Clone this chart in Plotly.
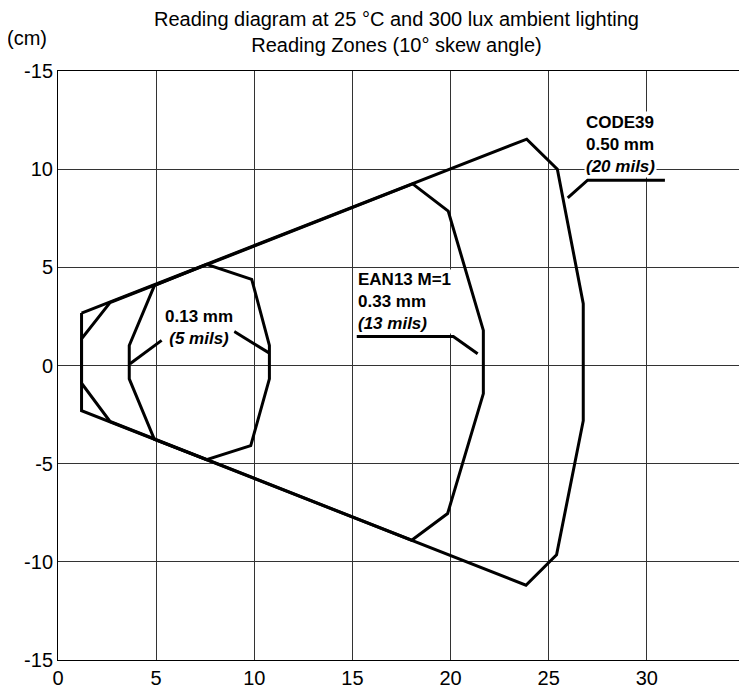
import plotly.graph_objects as go

# Reading zones (cm): x = distance, y = lateral
zone20_x = [1.2, 23.88, 25.44, 26.76, 26.76, 25.4, 23.84, 1.2, 1.2]
zone20_y = [2.67, 11.53, 10.0, 3.15, -2.81, -9.64, -11.19, -2.3, 2.67]

zone13_x = [2.65, 18.07, 19.88, 21.67, 21.67, 19.85, 18.02, 2.65, 1.2, 1.2, 2.65]
zone13_y = [3.2, 9.25, 7.86, 1.79, -1.43, -7.54, -8.9, -2.85, -0.9, 1.36, 3.2]

zone5_x = [4.91, 7.57, 9.87, 10.77, 10.77, 9.82, 7.57, 4.91, 3.63, 3.63, 4.91]
zone5_y = [4.07, 5.15, 4.39, 1.02, -0.68, -4.08, -4.8, -3.76, -0.68, 1.02, 4.07]

# leader lines (None separates segments)
lead5_x = [3.67, 5.28, None, 8.98, 10.77]
lead5_y = [0.09, 1.28, None, 1.73, 0.63]
lead13_x = [15.22, 20.14, 21.38]
lead13_y = [1.48, 1.48, 0.6]
lead20_x = [25.97, 26.98, 30.92]
lead20_y = [8.54, 9.44, 9.44]

x_ticks = [0, 5, 10, 15, 20, 25, 30]
y_ticks = [-15, -10, -5, 0, 5, 10, 15]
y_tick_text = ["-15", "-10", "-5", "0", "5", "10", "-15"]

title_text = "Reading diagram at 25 °C and 300 lux ambient lighting<br>Reading Zones (10° skew angle)"

FONT = "Liberation Sans, Arial, Helvetica, sans-serif"
line_style = dict(color="black", width=3)

fig = go.Figure()
for xs, ys in [(zone20_x, zone20_y), (zone13_x, zone13_y), (zone5_x, zone5_y),
               (lead5_x, lead5_y), (lead13_x, lead13_y), (lead20_x, lead20_y)]:
    fig.add_trace(go.Scatter(x=xs, y=ys, mode="lines", line=line_style,
                             hoverinfo="skip", showlegend=False, connectgaps=False))

ann_font = dict(family=FONT, size=17, color="black")
fig.add_annotation(x=7.2, y=1.95, xref="x", yref="y",
                   text="<b>0.13 mm</b><br><b><i>(5 mils)</i></b>",
                   showarrow=False, font=ann_font, align="center",
                   bgcolor="white", borderpad=0)
fig.add_annotation(x=15.22, y=3.27, xref="x", yref="y", xanchor="left",
                   text="<b>EAN13 M=1</b><br><b>0.33 mm</b><br><b><i>(13 mils)</i></b>",
                   showarrow=False, font=ann_font, align="left",
                   bgcolor="white", borderpad=0)
fig.add_annotation(x=26.78, y=11.28, xref="x", yref="y", xanchor="left",
                   text="<b>CODE39</b><br><b>0.50 mm</b><br><b><i>(20 mils)</i></b>",
                   showarrow=False, font=ann_font, align="left",
                   bgcolor="white", borderpad=1)

fig.add_annotation(x=0.493, y=1.0, xref="paper", yref="paper", yanchor="bottom",
                   yshift=13, text=title_text, showarrow=False,
                   font=dict(family=FONT, size=20, color="black"), align="center")
fig.add_annotation(x=-0.077, y=1.0, xref="paper", yref="paper", xanchor="left",
                   yanchor="bottom", yshift=20, text="(cm)", showarrow=False,
                   font=dict(family=FONT, size=20, color="black"))

axis_common = dict(showline=True, mirror=True, linecolor="black", linewidth=1,
                   showgrid=True, gridcolor="#333333", gridwidth=1,
                   zeroline=False, ticks="", tickfont=dict(family=FONT, size=20, color="black"))
fig.update_xaxes(range=[0, 35], tickvals=x_ticks, **axis_common)
fig.update_yaxes(range=[-15, 15], tickvals=y_ticks, ticktext=y_tick_text, **axis_common)

# page body adds an 8px margin, so the figure is sized to fill the 747x690 window
fig.update_layout(width=739, height=682, margin=dict(l=50, r=2, t=63, b=30),
                  plot_bgcolor="white", paper_bgcolor="white", showlegend=False)

fig.write_html("out.html")
